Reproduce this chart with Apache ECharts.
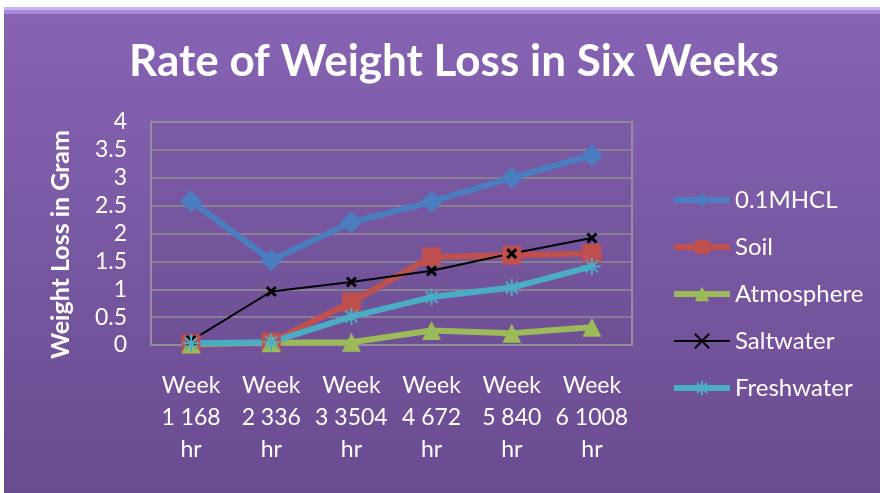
<!DOCTYPE html>
<html>
<head>
<meta charset="utf-8">
<script src="https://cdn.jsdelivr.net/npm/echarts@6/dist/echarts.min.js"></script>
<style>
  html, body { margin: 0; padding: 0; background: #fff; }
  #chart { position: absolute; left: 4px; top: 7px; width: 876px; height: 486px; }
</style>
</head>
<body>
<div id="chart"></div>
<script>
const weeks = ['Week\n1 168\nhr', 'Week\n2 336\nhr', 'Week\n3 3504\nhr', 'Week\n4 672\nhr', 'Week\n5 840\nhr', 'Week\n6 1008\nhr'];
const hcl = [2.58, 1.52, 2.2, 2.57, 3.0, 3.4];
const soil = [0.02, 0.05, 0.77, 1.58, 1.61, 1.64];
const atmosphere = [0.02, 0.04, 0.05, 0.26, 0.21, 0.32];
const saltwater = [0.08, 0.96, 1.13, 1.33, 1.64, 1.92];
const freshwater = [0.03, 0.05, 0.51, 0.86, 1.03, 1.41];

const FONT = 'Lato';
const crossPath = 'path://M0,0L10,10M10,0L0,10';
const starPath = 'path://M5,0L5,10M0,5L10,5M1.5,1.5L8.5,8.5M8.5,1.5L1.5,8.5';

const chart = echarts.init(document.getElementById('chart'));

const mk = (name, data, color, width, symbol, size, extra) => Object.assign({
  name: name,
  type: 'line',
  data: data,
  symbol: symbol,
  symbolSize: size,
  lineStyle: { color: color, width: width },
  itemStyle: { color: color },
  z: 3
}, extra || {});

chart.setOption({
  backgroundColor: {
    type: 'linear', x: 0, y: 0, x2: 0, y2: 1,
    colorStops: [
      { offset: 0, color: '#8764b4' },
      { offset: 1, color: '#6a4b90' }
    ]
  },
  title: {
    text: 'Rate of Weight Loss in Six Weeks',
    left: 445,
    textAlign: 'center',
    top: 28,
    textStyle: { color: '#fff', fontFamily: FONT, fontWeight: 'bold', fontSize: 44 }
  },
  graphic: [
    { type: 'rect', shape: { x: 0, y: 0, width: 876, height: 3 },
      style: { fill: '#cdb0f0' }, z: -1 },
    { type: 'rect', shape: { x: 0, y: 3, width: 876, height: 4 },
      style: { fill: '#a888d8' }, z: -1 }
  ],
  legend: {
    orient: 'vertical',
    left: 662,
    top: 176,
    itemWidth: 56,
    itemHeight: 18,
    itemGap: 23,
    textStyle: { color: '#fff', fontFamily: FONT, fontSize: 24 },
    data: [
      { name: '0.1MHCL', lineStyle: { width: 6 } },
      { name: 'Soil', lineStyle: { width: 6 } },
      { name: 'Atmosphere', lineStyle: { width: 6 } },
      { name: 'Saltwater', lineStyle: { width: 2 } },
      { name: 'Freshwater', lineStyle: { width: 6 } }
    ]
  },
  grid: {
    left: 147, top: 115, width: 481, height: 223,
    show: true,
    backgroundColor: 'rgba(0,0,0,0.03)',
    borderColor: '#9a8aa8',
    borderWidth: 2
  },
  xAxis: {
    type: 'category',
    data: weeks,
    boundaryGap: true,
    axisLine: { show: false },
    axisTick: { show: false },
    axisLabel: { color: '#fff', fontFamily: FONT, fontSize: 23, lineHeight: 32, margin: 25, interval: 0 }
  },
  yAxis: {
    type: 'value',
    min: 0, max: 4, interval: 0.5,
    name: 'Weight Loss in Gram',
    nameLocation: 'middle',
    nameGap: 78,
    nameTextStyle: { color: '#fff', fontFamily: FONT, fontWeight: 'bold', fontSize: 25, padding: [0, 22, 0, 0] },
    axisLine: { show: false },
    axisTick: { show: false },
    axisLabel: { color: '#fff', fontFamily: FONT, fontSize: 23, margin: 24 },
    splitLine: { lineStyle: { color: '#8f8f8f', width: 1.5 } }
  },
  series: [
    mk('0.1MHCL', hcl, '#4a7ec0', 6, 'diamond', 22),
    mk('Soil', soil, '#c0504d', 6, 'rect', 19),
    mk('Atmosphere', atmosphere, '#9bbb59', 6, 'triangle', 19),
    mk('Saltwater', saltwater, '#000', 2, crossPath, 9, {
      itemStyle: { color: '#000', borderColor: '#000', borderWidth: 3 }
    }),
    mk('Freshwater', freshwater, '#4bacc6', 6, starPath, 17, {
      itemStyle: { color: '#4bacc6', borderColor: '#4bacc6', borderWidth: 2 }
    })
  ]
});
</script>
</body>
</html>
